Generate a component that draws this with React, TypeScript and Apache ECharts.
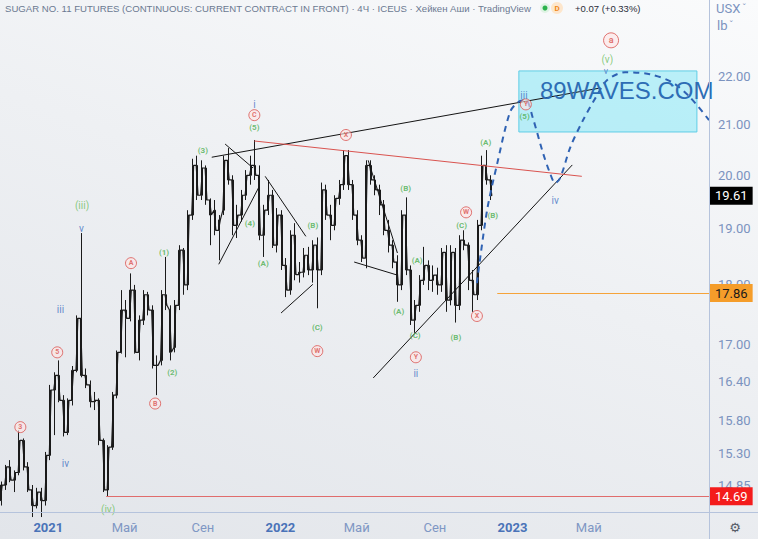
import React, { useEffect, useRef } from 'react';
import * as echarts from 'echarts';

const DAY = 86400000;
const ts = (s: string) => Date.parse(s + 'T00:00:00Z');

// Weekly Heikin-Ashi style candles: [open, close, low, high]
const firstWeek = '2020-10-19';
const ohlc: number[][] = [
  [14.63, 14.85, 14.56, 14.90], [14.85, 15.11, 14.78, 15.14], [15.11, 14.92, 14.89, 15.21], [14.92, 15.03, 14.75, 15.06],
  [15.03, 15.50, 14.99, 15.65], [15.50, 15.11, 15.06, 15.53], [15.11, 14.78, 14.75, 15.18], [14.78, 14.56, 14.40, 14.85],
  [14.56, 14.75, 14.52, 14.81], [14.75, 14.63, 14.40, 14.81], [14.63, 15.28, 14.56, 15.33], [15.28, 16.27, 15.21, 16.35],
  [16.27, 16.50, 15.58, 16.55], [16.50, 16.11, 16.08, 16.74], [16.11, 15.62, 15.56, 16.19], [15.62, 16.11, 15.58, 16.14],
  [16.11, 16.58, 16.03, 16.65], [16.58, 17.43, 16.55, 17.48], [17.43, 16.50, 16.47, 18.92], [16.50, 16.35, 16.30, 16.61],
  [16.35, 16.09, 16.00, 16.42], [16.09, 16.11, 15.96, 16.24], [16.11, 15.50, 15.43, 16.14], [15.50, 14.78, 14.75, 15.53],
  [14.78, 15.40, 14.69, 15.43], [15.40, 16.19, 15.36, 16.24], [16.19, 16.87, 16.14, 16.90], [16.87, 17.57, 16.85, 17.91],
  [17.57, 17.43, 16.79, 17.74], [17.43, 17.91, 17.38, 18.20], [17.91, 16.87, 16.85, 18.00], [16.87, 17.40, 16.74, 17.48],
  [17.40, 17.83, 17.32, 17.91], [17.83, 17.57, 17.48, 17.88], [17.57, 16.66, 16.61, 17.65], [16.66, 16.66, 16.19, 16.82],
  [16.74, 17.83, 16.66, 17.91], [17.83, 17.65, 17.57, 18.49], [17.57, 16.87, 16.74, 17.65], [16.95, 17.65, 16.87, 17.74],
  [17.65, 18.61, 17.57, 18.70], [18.61, 18.00, 17.83, 18.65], [18.00, 19.25, 17.91, 19.34], [19.25, 20.19, 19.16, 20.32],
  [20.19, 19.62, 19.53, 20.38], [19.62, 20.14, 19.53, 20.29], [20.14, 19.53, 19.44, 20.19], [19.53, 19.25, 18.70, 19.56],
  [19.34, 18.97, 18.88, 19.53], [18.97, 19.16, 18.43, 19.25], [19.34, 20.29, 19.25, 20.38], [20.29, 19.91, 19.82, 20.53],
  [19.91, 19.06, 18.88, 20.00], [19.06, 19.25, 18.83, 19.44], [19.25, 19.62, 19.13, 19.72], [19.62, 20.00, 19.53, 20.10],
  [20.00, 20.19, 19.82, 20.38], [20.19, 20.00, 19.91, 20.69], [20.00, 18.88, 18.79, 20.19], [18.88, 19.34, 18.49, 19.44],
  [19.34, 19.62, 19.25, 19.91], [19.62, 18.70, 18.65, 19.72], [18.70, 19.25, 18.57, 19.38], [19.25, 18.34, 18.26, 19.34],
  [18.34, 17.91, 17.79, 18.47], [17.91, 18.88, 17.83, 18.97], [18.88, 18.18, 18.08, 19.10], [18.18, 18.22, 18.04, 18.40],
  [18.22, 18.52, 18.13, 18.65], [18.52, 18.26, 18.17, 18.67], [18.26, 18.70, 18.04, 18.79], [18.70, 18.26, 17.60, 18.84],
  [18.26, 19.72, 18.17, 19.86], [19.72, 19.25, 19.16, 19.82], [19.25, 19.06, 18.79, 19.44], [19.06, 19.56, 18.97, 19.62],
  [19.56, 19.82, 19.44, 19.91], [19.82, 20.38, 19.72, 20.49], [20.38, 19.82, 19.72, 20.49], [19.82, 19.25, 19.16, 19.91],
  [19.25, 18.79, 18.70, 19.34], [18.79, 18.47, 18.40, 18.88], [18.47, 20.19, 18.29, 20.29], [20.19, 19.91, 19.82, 20.29],
  [19.91, 19.72, 19.62, 20.00], [19.72, 19.44, 19.25, 19.82], [19.44, 18.97, 18.88, 19.53], [18.97, 18.70, 18.57, 19.16],
  [18.70, 18.40, 18.29, 18.79], [18.40, 18.00, 17.71, 18.52], [18.00, 19.25, 17.91, 19.34], [19.25, 18.26, 18.17, 19.58],
  [18.26, 17.40, 17.32, 18.34], [17.40, 17.65, 17.19, 17.74], [17.65, 18.08, 17.54, 18.17], [18.08, 18.34, 18.00, 18.67],
  [18.34, 18.08, 17.91, 18.43], [18.08, 18.17, 17.88, 18.34], [18.17, 18.00, 17.83, 18.30], [18.00, 18.57, 17.88, 18.65],
  [18.57, 17.74, 17.54, 18.70], [17.74, 18.57, 17.65, 18.70], [18.57, 17.65, 17.36, 18.65], [17.65, 18.79, 17.57, 18.88],
  [18.79, 18.70, 18.61, 18.97], [18.70, 18.08, 17.91, 18.75], [18.08, 17.83, 17.54, 18.26], [17.83, 19.06, 17.74, 19.16],
  [19.06, 20.19, 18.97, 20.38], [20.19, 19.91, 19.82, 20.49], [19.91, 19.61, 19.53, 20.00],
];

const yTicks = [22, 21, 20, 19, 18, 17, 16.4, 15.8, 15.3, 14.85];
const xTicks = ['2021-01-01', '2021-05-01', '2021-09-01', '2022-01-01', '2022-05-01', '2022-09-01', '2023-01-01', '2023-05-01'];
const monthNames: Record<number, string> = { 4: 'Май', 8: 'Сен' };
const xRange = ['2020-10-17', '2023-11-06'];
const yRange = [14.47, 23.67];

const lastPrice = 19.61;
const supportLevel: [string, number] = ['2021-04-02', 14.69];
const targetLevel: [string, number] = ['2022-12-08', 17.86];

const redCircles: [string, number, string][] = [
  ['2020-11-18', 15.70, '3'], ['2021-01-15', 16.87, '5'], ['2021-05-11', 18.38, 'A'], ['2021-06-18', 16.06, 'B'],
  ['2021-11-21', 21.19, 'C'], ['2022-04-14', 20.79, 'X'], ['2022-02-28', 16.89, 'W'], ['2022-08-02', 16.79, 'Y'],
  ['2022-10-20', 19.30, 'W'], ['2022-11-06', 17.47, 'X'], ['2023-01-22', 21.41, 'Y'],
];
const degreeCircle: [string, number, string][] = [['2023-06-05', 22.77, 'a']];

const greenLabels: [string, number, string][] = [
  ['2021-07-02', 18.57, '(1)'], ['2021-07-15', 16.55, '(2)'], ['2021-09-01', 20.49, '(3)'], ['2021-11-14', 19.10, '(4)'],
  ['2021-11-21', 20.94, '(5)'], ['2021-12-05', 18.38, '(A)'], ['2022-02-21', 19.06, '(B)'], ['2022-02-28', 17.27, '(C)'],
  ['2022-07-06', 17.55, '(A)'], ['2022-07-17', 19.75, '(B)'], ['2022-08-01', 17.15, '(C)'], ['2022-08-04', 18.43, '(A)'],
  ['2022-10-04', 17.12, '(B)'], ['2022-10-13', 19.05, '(C)'], ['2022-11-20', 20.65, '(A)'], ['2022-12-01', 19.25, '(B)'],
  ['2023-01-20', 21.17, '(5)'],
];
const greenBigLabels: [string, number, string][] = [
  ['2021-02-23', 19.42, '(iii)'], ['2021-04-05', 14.50, '(iv)'], ['2023-05-30', 22.36, '(v)'],
];
const blueLabels: [string, number, string][] = [
  ['2021-01-20', 17.58, 'iii'], ['2021-02-22', 19.01, 'v'], ['2021-01-28', 15.16, 'iv'], ['2021-11-21', 21.41, 'i'],
  ['2022-08-02', 16.53, 'ii'], ['2023-01-19', 21.60, 'iii'], ['2023-03-09', 19.53, 'iv'],
];
const blueSmallLabels: [string, number, string][] = [['2023-05-28', 22.10, 'v']];

const blackLines: [string, number][][] = [
  [['2021-09-15', 20.35], ['2023-05-19', 21.75]],
  [['2022-05-27', 16.46], ['2023-04-05', 20.20]],
  [['2021-09-26', 18.36], ['2021-11-28', 19.77]],
  [['2021-10-06', 20.61], ['2021-11-19', 20.14]],
  [['2021-12-08', 19.98], ['2022-02-10', 18.86]],
  [['2022-01-02', 17.52], ['2022-02-21', 18.01]],
  [['2022-04-27', 18.40], ['2022-07-04', 18.17]],
  [['2022-05-19', 20.29], ['2022-07-04', 18.56]],
];
const redLine: [string, number][] = [['2021-11-21', 20.67], ['2023-04-20', 19.98]];

const projection: [string, number][] = [
  ['2022-11-06', 18.03], ['2022-11-22', 19.34], ['2022-12-08', 20.23], ['2022-12-28', 21.25], ['2023-01-10', 21.46],
  ['2023-01-22', 21.50], ['2023-02-02', 21.13], ['2023-02-18', 20.43], ['2023-03-01', 20.04], ['2023-03-09', 19.85],
  ['2023-03-17', 19.95], ['2023-04-02', 20.55], ['2023-04-22', 21.09], ['2023-05-14', 21.60], ['2023-05-30', 21.92],
  ['2023-06-27', 22.08], ['2023-08-05', 22.04], ['2023-09-09', 21.87], ['2023-10-07', 21.56], ['2023-11-06', 21.09],
];
const targetBox: [string, number][] = [['2023-01-11', 22.11], ['2023-10-18', 20.85]];

const headerText = 'SUGAR NO. 11 FUTURES (CONTINUOUS: CURRENT CONTRACT IN FRONT) · 4Ч · ICEUS · Хейкен Аши · TradingView';
const changeText = '+0.07 (+0.33%)';
const watermark = '89WAVES.COM';

const FONT = 'Roboto, "Liberation Sans", sans-serif';
const INK = '#1a1a1a';

function labelSeries(rows: [string, number, string][], color: string, fontSize: number, fontWeight: string) {
  return {
    type: 'scatter',
    data: rows.map(([d, p, t]) => ({ value: [ts(d), p], name: t })),
    symbol: 'circle',
    symbolSize: 1,
    itemStyle: { color: 'rgba(0,0,0,0)' },
    label: { show: true, position: 'inside', formatter: '{b}', color, fontSize, fontWeight, fontFamily: FONT },
    silent: true,
    clip: false,
    z: 6,
  };
}

function circleSeries(rows: [string, number, string][], size: number, fontSize: number) {
  return {
    type: 'scatter',
    data: rows.map(([d, p, t]) => ({ value: [ts(d), p], name: t })),
    symbol: 'circle',
    symbolSize: size,
    itemStyle: { color: 'rgba(255,228,228,0.75)', borderColor: '#d9534f', borderWidth: 1 },
    label: { show: true, position: 'inside', formatter: '{b}', color: '#d9534f', fontSize, fontWeight: 'bold', fontFamily: FONT },
    silent: true,
    clip: false,
    z: 6,
  };
}

export default function App() {
  const ref = useRef<HTMLDivElement>(null);
  useEffect(() => {
    const chart = echarts.init(ref.current!, null, { renderer: 'svg' });
    const t0 = ts(firstWeek);
    const weekTime = (i: number) => t0 + i * 7 * DAY;
    const candles = ohlc.map((c, i) => [weekTime(i), c[0], c[1], c[2], c[3]]);
    // thin trace joining each candle's open and close, like the dense 4h scribble
    const trace: number[][] = [];
    ohlc.forEach((c, i) => {
      trace.push([weekTime(i) - 1.5 * DAY, c[0]]);
      trace.push([weekTime(i) + 1.5 * DAY, c[1]]);
    });
    const xMax = ts(xRange[1]);
    const tagLabel = (text: string, bg: string, fg: string) => ({
      show: true, position: 'end', formatter: text, color: fg, backgroundColor: bg,
      padding: [3, 5, 2, 5], fontSize: 13, fontFamily: FONT, distance: 1,
    });

    const option: any = {
      animation: false,
      backgroundColor: 'transparent',
      grid: { left: 0, right: 49, top: 0, bottom: 27, containLabel: false, outerBoundsMode: 'none' },
      xAxis: {
        type: 'value', min: ts(xRange[0]), max: xMax, scale: true,
        axisLine: { show: false }, axisTick: { show: false }, splitLine: { show: false },
        axisLabel: {
          customValues: xTicks.map(ts),
          hideOverlap: false,
          formatter: (v: number) => {
            const d = new Date(v);
            const m = d.getUTCMonth();
            return m === 0 ? '{y|' + d.getUTCFullYear() + '}' : monthNames[m];
          },
          color: '#7f97c4', fontSize: 13, margin: 9, fontFamily: FONT,
          rich: { y: { fontWeight: 'bold', color: '#4a73b8', fontSize: 13, fontFamily: FONT } },
        },
      },
      yAxis: {
        type: 'log', logBase: 10, min: yRange[0], max: yRange[1], position: 'right',
        axisLine: { show: false }, axisTick: { show: false }, splitLine: { show: false },
        axisLabel: {
          customValues: yTicks, formatter: (v: number) => Number(v).toFixed(2),
          color: '#7b93bf', fontSize: 13, margin: 9, fontFamily: FONT, hideOverlap: false,
        },
      },
      series: [
        {
          type: 'candlestick',
          data: candles,
          barWidth: 1.5,
          itemStyle: { color: INK, color0: INK, borderColor: INK, borderColor0: INK, borderWidth: 1 },
          silent: true,
          z: 2,
          markLine: {
            silent: true, symbol: ['none', 'none'],
            data: [
              [
                { coord: [ts(supportLevel[0]), supportLevel[1]], lineStyle: { color: '#e06c6c', width: 1, type: 'solid' }, label: tagLabel(supportLevel[1].toFixed(2), '#f41c1c', '#ffffff') },
                { coord: [xMax, supportLevel[1]] },
              ],
              [
                { coord: [ts(targetLevel[0]), targetLevel[1]], lineStyle: { color: '#f5a33a', width: 1, type: 'solid' }, label: tagLabel(targetLevel[1].toFixed(2), '#f59d2a', '#1a1a1a') },
                { coord: [xMax, targetLevel[1]] },
              ],
              { yAxis: lastPrice, lineStyle: { color: 'rgba(0,0,0,0)', width: 1 }, label: tagLabel(lastPrice.toFixed(2), '#000000', '#ffffff') },
            ],
          },
        },
        {
          type: 'line', data: trace, symbol: 'none', lineStyle: { color: INK, width: 1.2 }, silent: true, z: 2,
        },
        {
          type: 'line',
          data: projection.map(([d, p]) => [ts(d), p]),
          smooth: 0.3,
          symbol: 'none',
          lineStyle: { color: '#2f62b3', width: 2, type: [6, 5] },
          silent: true,
          z: 4,
          markArea: {
            silent: true,
            itemStyle: { color: 'rgba(110,228,246,0.45)', borderColor: '#5fcde6', borderWidth: 1 },
            data: [[{ coord: [ts(targetBox[0][0]), targetBox[0][1]] }, { coord: [ts(targetBox[1][0]), targetBox[1][1]] }]],
          },
        },
        ...blackLines.map((seg) => ({
          type: 'line', data: seg.map(([d, p]) => [ts(d), p]), symbol: 'none',
          lineStyle: { color: '#141414', width: 1 }, silent: true, z: 3,
        })),
        {
          type: 'line', data: redLine.map(([d, p]) => [ts(d), p]), symbol: 'none',
          lineStyle: { color: '#d9534f', width: 1 }, silent: true, z: 3,
        },
        circleSeries(redCircles, 11, 7),
        circleSeries(degreeCircle, 15, 9),
        labelSeries(greenLabels, '#4caf50', 8, 'bold'),
        labelSeries(greenBigLabels, '#6cbf5f', 10, 'normal'),
        labelSeries(blueLabels, '#3d6fc2', 10, 'normal'),
        labelSeries(blueSmallLabels, '#3d6fc2', 9, 'normal'),
      ],
      graphic: [
        { type: 'line', silent: true, z: 50, shape: { x1: 709.5, y1: 0, x2: 709.5, y2: 539 }, style: { stroke: '#b5c3dc', lineWidth: 1 } },
        { type: 'line', silent: true, z: 50, shape: { x1: 0, y1: 512.5, x2: 758, y2: 512.5 }, style: { stroke: '#b5c3dc', lineWidth: 1 } },
        { type: 'text', silent: true, z: 50, x: 5, y: 3, style: { text: headerText, fill: '#6b7991', fontSize: 9.6, fontFamily: '"Liberation Sans", sans-serif' } },
        { type: 'circle', silent: true, z: 50, shape: { cx: 545, cy: 8, r: 5 }, style: { fill: '#dff3e4' } },
        { type: 'circle', silent: true, z: 51, shape: { cx: 545, cy: 8, r: 2.5 }, style: { fill: '#2bb24c' } },
        { type: 'circle', silent: true, z: 50, shape: { cx: 557, cy: 8, r: 6 }, style: { fill: '#fde6cc' } },
        { type: 'text', silent: true, z: 51, x: 557, y: 8, style: { text: 'D', fill: '#f08a1c', fontSize: 8, fontWeight: 'bold', align: 'center', verticalAlign: 'middle', fontFamily: FONT } },
        { type: 'text', silent: true, z: 50, x: 575, y: 3, style: { text: changeText, fill: '#2a2e39', fontSize: 9.5, fontFamily: '"Liberation Sans", sans-serif' } },
        { type: 'text', silent: true, z: 50, x: 716, y: 2, style: { text: 'USX', fill: '#7b93bf', fontSize: 13, fontFamily: FONT } },
        { type: 'text', silent: true, z: 50, x: 742, y: 3, style: { text: 'ˇ', fill: '#7b93bf', fontSize: 10, fontFamily: FONT } },
        { type: 'text', silent: true, z: 50, x: 717, y: 19, style: { text: 'lb', fill: '#7b93bf', fontSize: 13, fontFamily: FONT } },
        { type: 'text', silent: true, z: 50, x: 729, y: 20, style: { text: 'ˇ', fill: '#7b93bf', fontSize: 10, fontFamily: FONT } },
        { type: 'text', silent: true, z: 50, x: 735, y: 527, style: { text: '⚙', fill: '#555b66', fontSize: 13, align: 'center', verticalAlign: 'middle', fontFamily: '"DejaVu Sans", sans-serif' } },
        { type: 'text', silent: true, z: 40, x: 540, y: 78, style: { text: watermark, fill: '#2d6db5', fontSize: 24, fontFamily: '"Liberation Sans", sans-serif' } },
      ],
    };
    chart.setOption(option);
    return () => chart.dispose();
  }, []);
  return (
    <div
      ref={ref}
      style={{
        position: 'fixed', left: 0, top: 0, width: 758, height: 539,
        background: 'linear-gradient(200deg, #fafbfc 0%, #eef0f3 45%, #e2e5ea 100%)',
      }}
    />
  );
}
